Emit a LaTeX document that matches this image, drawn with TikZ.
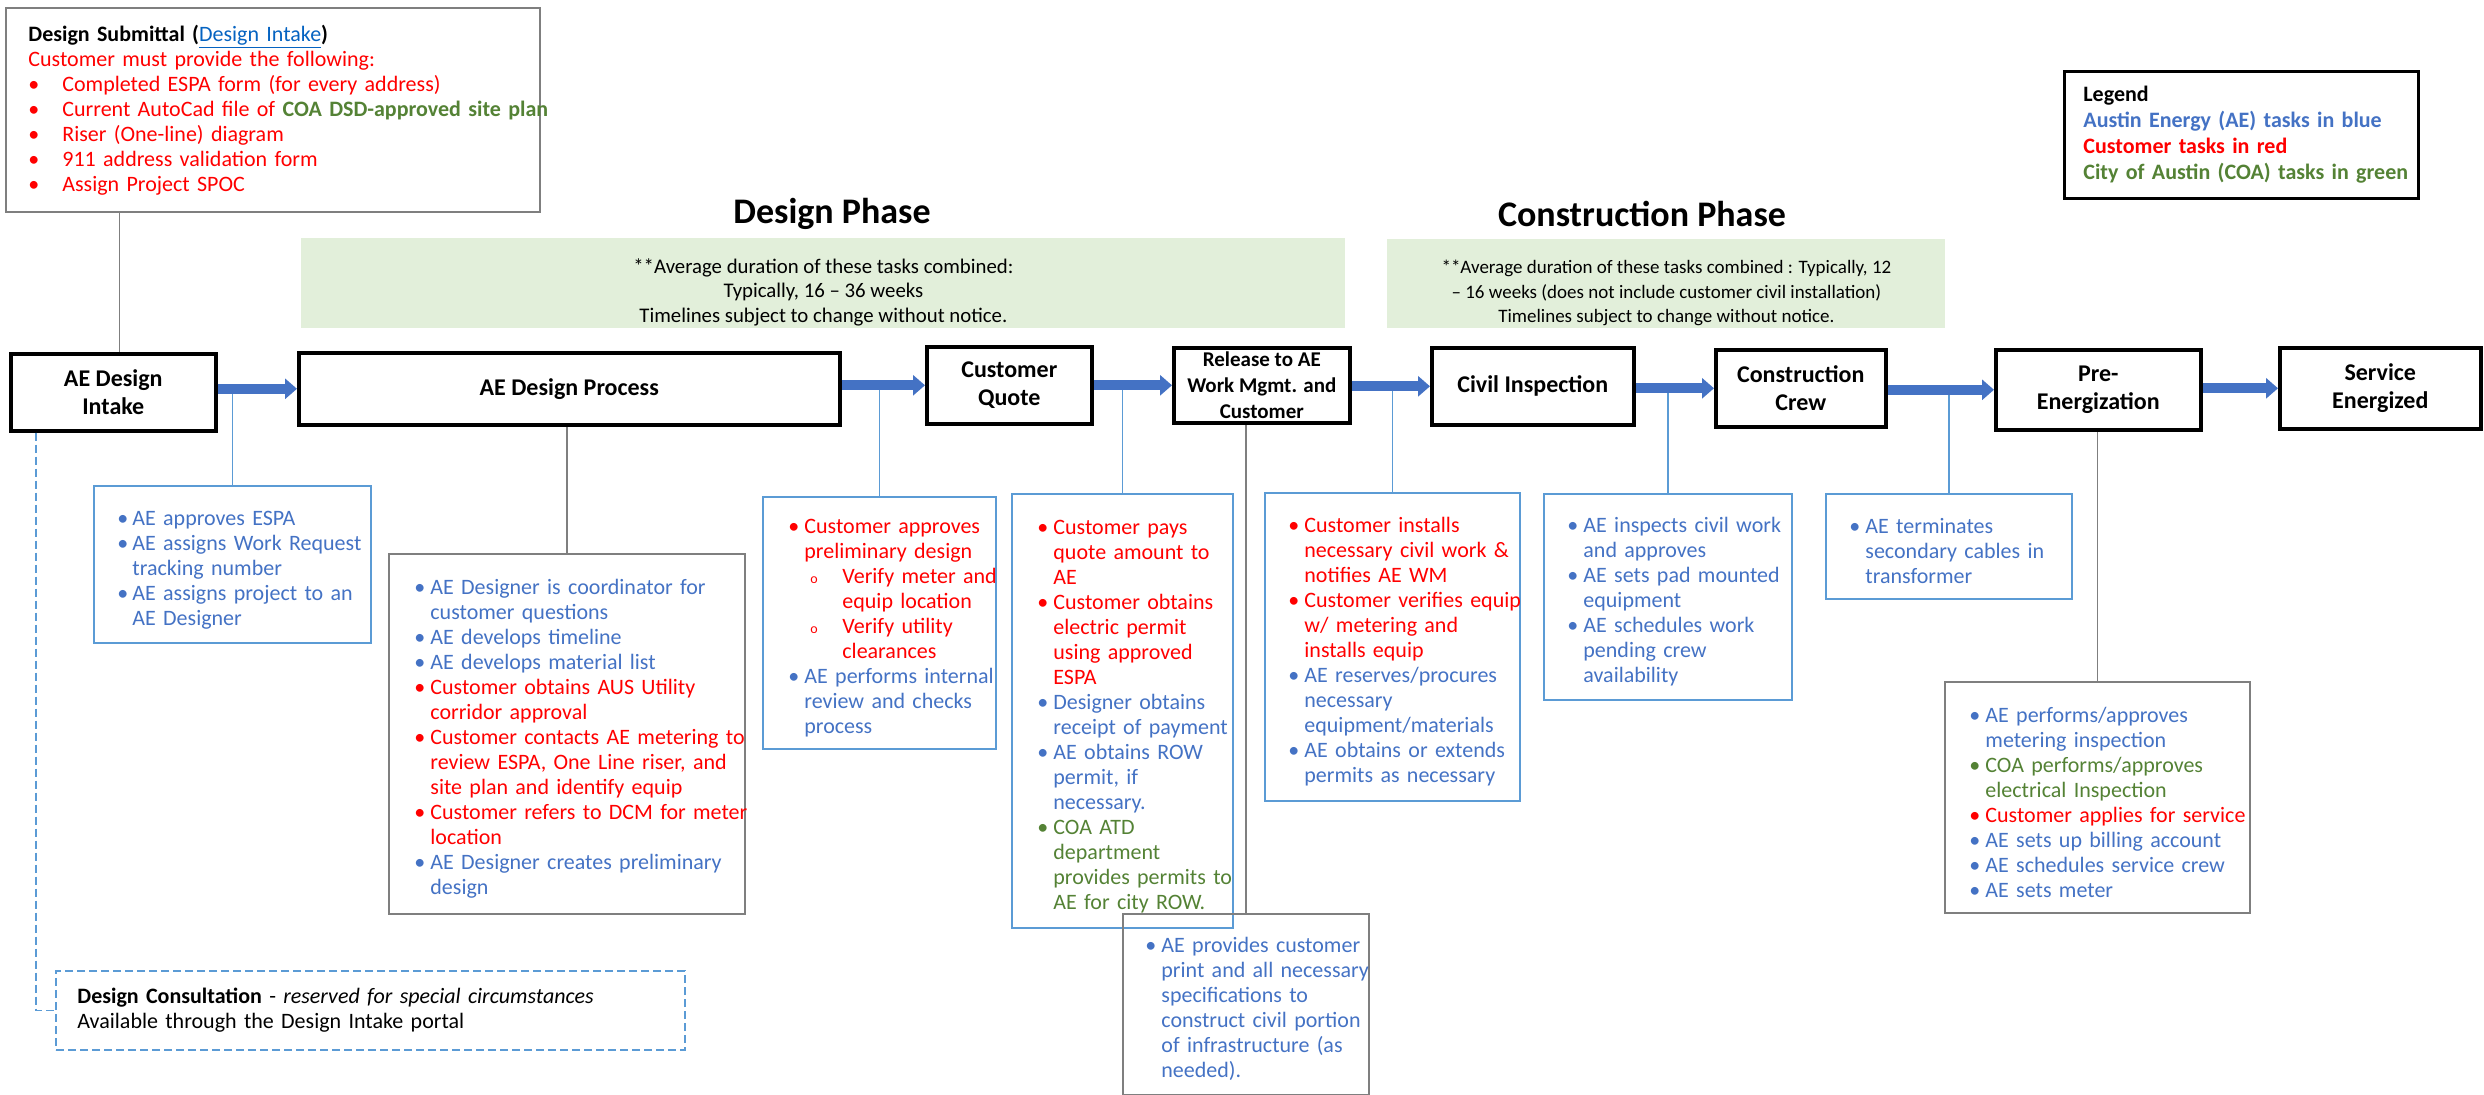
\documentclass[tikz,border=0pt]{standalone}
\usepackage{fontspec}
\setmainfont{Carlito}
\usetikzlibrary{arrows.meta,positioning,calc}

\definecolor{aeblue}{HTML}{4472C4}
\definecolor{custred}{HTML}{FF0000}
\definecolor{coagreen}{HTML}{548235}
\definecolor{frameblue}{HTML}{5B9BD5}
\definecolor{framegrey}{HTML}{7F7F7F}
\definecolor{phasegreen}{HTML}{E2EFDA}
\definecolor{linkblue}{HTML}{0563C1}

%% bullet item: [indent]{colour}{text}
\newcommand{\bul}[3][8pt]{\par{\color{#2}\hangindent=#1\hangafter=1\noindent\makebox[#1][l]{\textbullet}#3\par}}
%% sub item with hollow marker
\newcommand{\subbul}[2]{\par{\color{#1}\hangindent=27pt\hangafter=1\noindent\makebox[27pt][l]{\hspace{11pt}{\fontsize{7}{7}\selectfont o}}#2\par}}

\tikzset{
  stage/.style={draw=black,line width=1.8pt,anchor=north west,inner sep=0pt,align=center,font=\bfseries\fontsize{12}{14}\selectfont},
  bluebox/.style={draw=frameblue,line width=1pt,anchor=north west,inner sep=0pt},
  greybox/.style={draw=framegrey,line width=1pt,anchor=north west,inner sep=0pt},
  boxtext/.style={anchor=west,text width=300pt,inner sep=0pt,align=left,font=\fontsize{11}{12.5}\selectfont},
  phasebox/.style={fill=phasegreen,anchor=north west,inner sep=0pt},
  phasetext/.style={inner sep=0pt,align=center,font=\fontsize{10.4}{12.3}\selectfont},
  phasetitle/.style={font=\bfseries\fontsize{18}{20}\selectfont,inner sep=0pt},
  flow/.style={draw=aeblue,line width=5pt,-{Triangle[length=6pt,width=10pt]}},
  blueline/.style={draw=frameblue,line width=0.7pt},
  greyline/.style={draw=framegrey,line width=0.8pt},
  dashline/.style={draw=frameblue,line width=0.8pt,dash pattern=on 4pt off 2pt}
}

\begin{document}
\begin{tikzpicture}[x=0.5pt,y=-0.5pt]
  \useasboundingbox (0,0) rectangle (2484,1095);

  %% Design submittal
  \node[greybox,minimum width=267pt,minimum height=102pt] (sub) at (5,7) {};
  \node[boxtext] (subt) at ([xshift=11.5pt]sub.west) {%
    {\bfseries Design Submittal (}{\color{linkblue}\underline{Design Intake}}{\bfseries )}\par
    {\color{custred}Customer must provide the following:}\par
    \bul[17pt]{custred}{Completed ESPA form (for every address)}
    \bul[17pt]{custred}{Current AutoCad file of {\color{coagreen}\bfseries COA DSD-approved site plan}}
    \bul[17pt]{custred}{Riser (One-line) diagram}
    \bul[17pt]{custred}{911 address validation form}
    \bul[17pt]{custred}{Assign Project SPOC}};

  %% Legend
  \node[draw=black,line width=1.5pt,anchor=north west,inner sep=0pt,minimum width=177pt,minimum height=63.5pt] (legend) at (2063,70) {};
  \node[boxtext,font=\bfseries\fontsize{11}{13}\selectfont] (legendt) at ([xshift=10pt]legend.west) {%
    Legend\par
    {\color{aeblue}Austin Energy (AE) tasks in blue}\par
    {\color{custred}Customer tasks in red}\par
    {\color{coagreen}City of Austin (COA) tasks in green}};

  %% Phases
  \node[phasetitle] (dtitle) at (832,214) {Design Phase};
  \node[phasetitle] (ctitle) at (1642,214) {Construction Phase};
  \node[phasebox,minimum width=522pt,minimum height=45pt] (dgreen) at (301,238) {};
  \node[phasetext] (dgreent) at ([yshift=-4.5pt]dgreen.center)
    {**Average duration of these tasks combined:\\Typically, 16 – 36 weeks\\Timelines subject to change without notice.};
  \node[phasebox,minimum width=279pt,minimum height=44.5pt] (cgreen) at (1387,239) {};
  \node[phasetext,font=\fontsize{9.5}{12.3}\selectfont] (cgreent) at ([yshift=-4.5pt]cgreen.center)
    {**Average duration of these tasks combined : Typically, 12\\– 16 weeks (does not include customer civil installation)\\Timelines subject to change without notice.};

  %% Stages
  \node[stage,minimum width=102.5pt,minimum height=38.5pt] (intake) at (9,352) {AE Design\\Intake};
  \node[stage,minimum width=270.5pt,minimum height=36pt] (process) at (297,351) {AE Design Process};
  \node[stage,minimum width=82.5pt,minimum height=38.5pt] (quote) at (925,345) {Customer\\Quote};
  \node[stage,minimum width=88pt,minimum height=37.5pt,font=\bfseries\fontsize{10.5}{13}\selectfont] (release) at (1172,346) {Release to AE\\Work Mgmt. and\\Customer};
  \node[stage,minimum width=101pt,minimum height=38.5pt] (civil) at (1430,346) {Civil Inspection};
  \node[stage,minimum width=85pt,minimum height=38.5pt] (crew) at (1714,348) {Construction\\Crew};
  \node[stage,minimum width=102.5pt,minimum height=40pt] (preen) at (1994,348) {Pre-\\Energization};
  \node[stage,minimum width=100.5pt,minimum height=40.5pt] (service) at (2278,346) {Service\\Energized};

  %% Task boxes
  \node[bluebox,minimum width=138.5pt,minimum height=78.5pt] (intaketasks) at (93,485) {};
  \node[boxtext] (intaketaskst) at ([xshift=12pt]intaketasks.west) {%
    \bul[7.5pt]{aeblue}{AE approves ESPA}
    \bul[7.5pt]{aeblue}{AE assigns Work Request\newline tracking number}
    \bul[7.5pt]{aeblue}{AE assigns project to an\newline AE Designer}};

  \node[greybox,minimum width=178pt,minimum height=180pt] (processtasks) at (388,553) {};
  \node[boxtext] (processtaskst) at ([xshift=13pt]processtasks.west) {%
    \bul{aeblue}{AE Designer is coordinator for\newline customer questions}
    \bul{aeblue}{AE develops timeline}
    \bul{aeblue}{AE develops material list}
    \bul{custred}{Customer obtains AUS Utility\newline corridor approval}
    \bul{custred}{Customer contacts AE metering to\newline review ESPA, One Line riser, and\newline site plan and identify equip}
    \bul{custred}{Customer refers to DCM for meter\newline location}
    \bul{aeblue}{AE Designer creates preliminary\newline design}};

  \node[bluebox,minimum width=116.5pt,minimum height=126pt] (quotetasks) at (762,496) {};
  \node[boxtext] (quotetaskst) at ([xshift=13pt]quotetasks.west) {%
    \bul{custred}{Customer approves\newline preliminary design}
    \subbul{custred}{Verify meter and\newline equip location}
    \subbul{custred}{Verify utility\newline clearances}
    \bul{aeblue}{AE performs internal\newline review and checks\newline process}};

  \node[bluebox,minimum width=110.5pt,minimum height=217pt] (paytasks) at (1011,493) {};
  \node[boxtext] (paytaskst) at ([xshift=13pt]paytasks.west) {%
    \bul{custred}{Customer pays\newline quote amount to\newline AE}
    \bul{custred}{Customer obtains\newline electric permit\newline using approved\newline ESPA}
    \bul{aeblue}{Designer obtains\newline receipt of payment}
    \bul{aeblue}{AE obtains ROW\newline permit, if\newline necessary.}
    \bul{coagreen}{COA ATD\newline department\newline provides permits to\newline AE for city ROW.}};

  \node[greybox,minimum width=123pt,minimum height=90.5pt] (releasetasks) at (1122,913) {};
  \node[boxtext] (releasetaskst) at ([xshift=11.5pt]releasetasks.west) {%
    \bul{aeblue}{AE provides customer\newline print and all necessary\newline specifications to\newline construct civil portion\newline of infrastructure (as\newline needed).}};

  \node[bluebox,minimum width=127.5pt,minimum height=154pt] (civiltasks) at (1264,492) {};
  \node[boxtext] (civiltaskst) at ([xshift=12pt]civiltasks.west) {%
    \bul{custred}{Customer installs\newline necessary civil work \&\newline notifies AE WM}
    \bul{custred}{Customer verifies equip\newline w/ metering and\newline installs equip}
    \bul{aeblue}{AE reserves/procures\newline necessary\newline equipment/materials}
    \bul{aeblue}{AE obtains or extends\newline permits as necessary}};

  \node[bluebox,minimum width=124pt,minimum height=103pt] (inspecttasks) at (1543,493) {};
  \node[boxtext] (inspecttaskst) at ([xshift=12pt]inspecttasks.west) {%
    \bul{aeblue}{AE inspects civil work\newline and approves}
    \bul{aeblue}{AE sets pad mounted\newline equipment}
    \bul{aeblue}{AE schedules work\newline pending crew\newline availability}};

  \node[bluebox,minimum width=123pt,minimum height=52.5pt] (crewtasks) at (1825,493) {};
  \node[boxtext] (crewtaskst) at ([xshift=12pt]crewtasks.west) {%
    \bul{aeblue}{AE terminates\newline secondary cables in\newline transformer}};

  \node[greybox,minimum width=152.5pt,minimum height=115.5pt] (preentasks) at (1944,681) {};
  \node[boxtext] (preentaskst) at ([xshift=12.5pt]preentasks.west) {%
    \bul{aeblue}{AE performs/approves\newline metering inspection}
    \bul{coagreen}{COA performs/approves\newline electrical Inspection}
    \bul{custred}{Customer applies for service}
    \bul{aeblue}{AE sets up billing account}
    \bul{aeblue}{AE schedules service crew}
    \bul{aeblue}{AE sets meter}};

  %% Consultation
  \node[draw=frameblue,line width=1pt,dash pattern=on 4pt off 2pt,anchor=north west,inner sep=0pt,minimum width=314.5pt,minimum height=39.5pt] (consult) at (55,970) {};
  \node[boxtext] (consultt) at ([xshift=11pt]consult.west) {%
    {\bfseries Design Consultation} - \textit{reserved for special circumstances}\par
    Available through the Design Intake portal};

  %% Connectors
  \draw[greyline] ([xshift=3pt]intake.north) -- ([xshift=3pt]intake.north |- sub.south);
  \draw[dashline] ([xshift=13.5pt]intake.south west) |- (consult.west);
  \draw[blueline] (intaketasks.north) -- (intaketasks.north |- process.west);
  \draw[greyline] (processtasks.north) -- (processtasks.north |- process.south);
  \draw[blueline] (quotetasks.north) -- (quotetasks.north |- quote.west);
  \draw[blueline] (paytasks.north) -- (paytasks.north |- release.west);
  \draw[greyline] (releasetasks.north) -- (releasetasks.north |- release.south);
  \draw[blueline] (civiltasks.north) -- (civiltasks.north |- civil.west);
  \draw[blueline] (inspecttasks.north) -- (inspecttasks.north |- crew.west);
  \draw[blueline] (crewtasks.north) -- (crewtasks.north |- preen.west);
  \draw[greyline] (preentasks.north) -- (preentasks.north |- preen.south);

  %% Flow
  \draw[flow] (intake.east |- process.west) -- (process.west);
  \draw[flow] (process.east |- quote.west) -- (quote.west);
  \draw[flow] (quote.east |- release.west) -- (release.west);
  \draw[flow] (release.east |- civil.west) -- (civil.west);
  \draw[flow] (civil.east |- crew.west) -- (crew.west);
  \draw[flow] (crew.east |- preen.west) -- (preen.west);
  \draw[flow] (preen.east |- service.west) -- (service.west);
\end{tikzpicture}
\end{document}
